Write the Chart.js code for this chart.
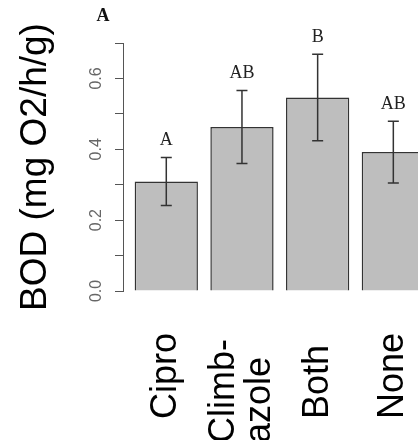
<!DOCTYPE html>
<html>
<head>
<meta charset="utf-8">
<script src="https://cdn.jsdelivr.net/npm/chart.js@4"></script>
<style>
  html, body { margin: 0; padding: 0; background: #ffffff; overflow: hidden; }
  #wrap { width: 418px; height: 440px; position: relative; overflow: hidden; }
  canvas { display: block; }
</style>
</head>
<body>
<div id="wrap"><canvas id="c" width="418" height="440"></canvas></div>
<script>
// ---- data ----
const categories = ["Cipro", ["Climb-", "azole"], "Both", "None"];
const bodMeans   = [0.309, 0.463, 0.546, 0.392];
const bodErrors  = [0.068, 0.103, 0.122, 0.087];
const sigLetters = ["A", "AB", "B", "AB"];
const yTickLabels = ["0.0", "", "0.2", "", "0.4", "", "0.6", ""];
const panelLabel = "A";
const yTitle = "BOD (mg O2/h/g)";

const SANS = "'Liberation Sans', Arial, sans-serif";
const SERIF = "'Liberation Serif', 'Times New Roman', serif";

const errorBarPlugin = {
  id: 'errorBars',
  beforeDraw(chart) {
    // x labels: start-aligned near the bottom, multi-line labels centred on tick
    const xs = chart.scales.x;
    const items = xs.getLabelItems();
    items.forEach(it => {
      if (it._adj) return;
      const n = Array.isArray(it.label) ? it.label.length : 1;
      const lh = it.font.lineHeight;
      it.options.translation[0] -= (n - 1) * lh / 2;
      it.options.textAlign = 'left';
      it.options.translation[1] = xs.bottom - 21 + (n - 1) * 24;
      it._adj = true;
    });
  },
  afterDatasetsDraw(chart) {
    const ctx = chart.ctx;
    const xs = chart.scales.x, ys = chart.scales.y;
    ctx.save();
    ctx.strokeStyle = '#333';
    ctx.lineWidth = 1.5;
    bodMeans.forEach((m, i) => {
      const x = xs.getPixelForValue(i + 1);
      const top = ys.getPixelForValue(m + bodErrors[i]);
      const bot = ys.getPixelForValue(m - bodErrors[i]);
      ctx.beginPath();
      ctx.moveTo(x, top); ctx.lineTo(x, bot);
      ctx.moveTo(x - 5.5, top); ctx.lineTo(x + 5.5, top);
      ctx.moveTo(x - 5.5, bot); ctx.lineTo(x + 5.5, bot);
      ctx.stroke();
      ctx.fillStyle = '#222';
      ctx.font = "18px " + SERIF;
      ctx.textAlign = 'center';
      ctx.textBaseline = 'middle';
      ctx.fillText(sigLetters[i], x, top - 17);
    });
    ctx.fillStyle = '#111';
    ctx.font = "bold 18px " + SERIF;
    ctx.textAlign = 'center';
    ctx.textBaseline = 'middle';
    ctx.fillText(panelLabel, 103, 16);
    ctx.restore();
  }
};

new Chart(document.getElementById('c'), {
  type: 'bar',
  data: {
    datasets: [{
      data: bodMeans.map((v, i) => ({ x: i + 1, y: v })),
      backgroundColor: '#bebebe',
      borderColor: '#333333',
      borderWidth: 1.5,
      categoryPercentage: 1,
      barPercentage: 0.836
    }]
  },
  options: {
    responsive: false,
    animation: false,
    devicePixelRatio: 1,
    layout: { padding: { top: 43, bottom: 0, left: 0, right: 0 } },
    plugins: { legend: { display: false }, tooltip: { enabled: false } },
    scales: {
      x: {
        type: 'linear',
        offset: false,
        min: 0.428,
        max: 4.326,
        grid: { display: false, offset: false },
        border: { display: false },
        afterBuildTicks(scale) { scale.ticks = categories.map((c, i) => ({ value: i + 1 })); },
        afterFit(scale) { scale.height = 149; scale.paddingRight = 0; scale.paddingLeft = 0; },
        ticks: {
          autoSkip: false,
          minRotation: 90,
          maxRotation: 90,
          color: '#000',
          padding: 0,
          font: { family: SANS, size: 36, lineHeight: 1.0 },
          callback: (v, i) => categories[i]
        }
      },
      y: {
        min: 0,
        max: 0.7,
        afterFit(scale) { scale.width = 123; },
        grid: { display: true, drawOnChartArea: false, drawTicks: true, tickLength: 8, color: '#555', tickWidth: 1 },
        border: { display: true, color: '#555', width: 1 },
        ticks: {
          stepSize: 0.1,
          minRotation: 90,
          maxRotation: 90,
          crossAlign: 'center',
          padding: 7,
          color: '#666',
          font: { family: SANS, size: 16 },
          callback: (v, i) => yTickLabels[i]
        },
        title: {
          display: true,
          text: yTitle,
          color: '#000',
          font: { family: SANS, size: 37 },
          padding: { top: 14, bottom: 0 }
        }
      }
    }
  },
  plugins: [errorBarPlugin]
});
</script>
</body>
</html>
